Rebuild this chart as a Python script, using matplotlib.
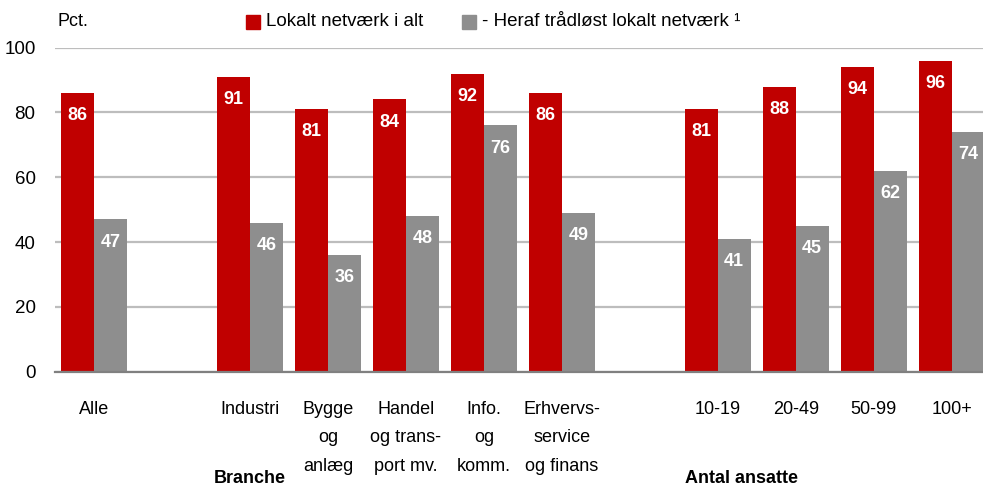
import matplotlib.pyplot as plt
import numpy as np

plt.rcParams['font.family'] = ['Liberation Sans', 'DejaVu Sans']

categories = ['Alle', 'Industri', 'Bygge\nog\nanlæg', 'Handel\nog trans-\nport mv.', 'Info.\nog\nkomm.',
              'Erhvervs-\nservice\nog finans', '10-19', '20-49', '50-99', '100+']
slots = [0, 2, 3, 4, 5, 6, 8, 9, 10, 11]
lokalt = [86, 91, 81, 84, 92, 86, 81, 88, 94, 96]
traadloest = [47, 46, 36, 48, 76, 49, 41, 45, 62, 74]

red = '#C00000'
grey = '#8E8E8E'
w = 0.42

fig = plt.figure(figsize=(9.83, 4.86), dpi=100)
ax = fig.add_axes([0.056, 0.235, 0.944, 0.667])

x = np.array(slots)
ax.bar(x - w / 2, lokalt, w, color=red, zorder=3)
ax.bar(x + w / 2, traadloest, w, color=grey, zorder=3)

for xi, v in zip(x, lokalt):
    ax.text(xi - w / 2, v - 7, str(v), color='white', fontsize=13, fontweight='bold',
            ha='center', va='center', zorder=4)
for xi, v in zip(x, traadloest):
    ax.text(xi + w / 2, v - 7, str(v), color='white', fontsize=13, fontweight='bold',
            ha='center', va='center', zorder=4)

ax.set_xlim(-0.5, 11.4)
ax.set_ylim(0, 100)
ax.set_yticks([0, 20, 40, 60, 80, 100])
ax.tick_params(axis='y', length=0, labelsize=13.5, pad=14)
ax.tick_params(axis='x', length=0)
ax.set_xticks([])
ax.grid(axis='y', color='#BDBDBD', linewidth=1.6, zorder=0)
for s in ['top', 'right', 'left']:
    ax.spines[s].set_visible(False)
ax.spines['bottom'].set_color('#808080')
ax.spines['bottom'].set_linewidth(1.6)
ax.spines['bottom'].set_zorder(5)

for xi, lab in zip(x, categories):
    ax.text(xi, -9, lab, ha='center', va='top', fontsize=13, linespacing=1.88)

ax.text(2, -32.8, 'Branche', ha='center', va='center', fontsize=13, fontweight='bold')
ax.text(8.3, -32.8, 'Antal ansatte', ha='center', va='center', fontsize=13, fontweight='bold')

fig.text(0.058, 0.955, 'Pct.', fontsize=13, va='center')

# legend
fig.patches.append(plt.Rectangle((0.2505, 0.94), 0.0145, 0.029, color=red, transform=fig.transFigure))
fig.text(0.271, 0.955, 'Lokalt netværk i alt', fontsize=13.5, va='center')
fig.patches.append(plt.Rectangle((0.47, 0.94), 0.0145, 0.029, color=grey, transform=fig.transFigure))
fig.text(0.49, 0.955, '- Heraf trådløst lokalt netværk ¹', fontsize=13.5, va='center')

plt.savefig('out.png', dpi=100)
